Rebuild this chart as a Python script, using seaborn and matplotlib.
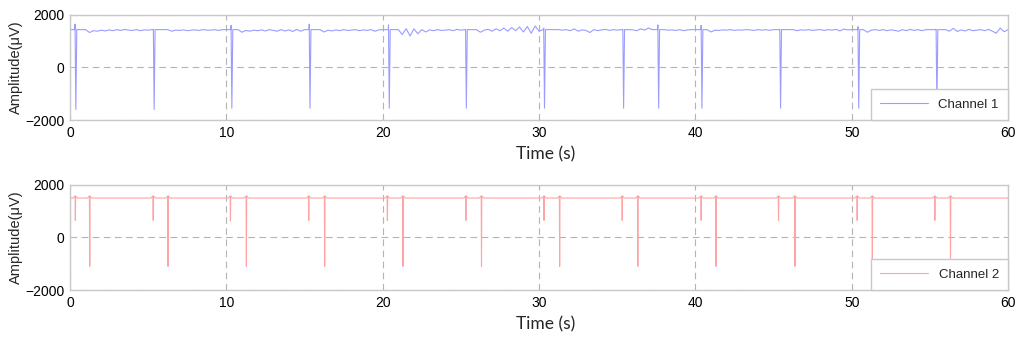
import numpy as np
import pandas as pd
import seaborn as sns
import matplotlib.pyplot as plt

# ---- data ----
# channel 1 baseline, sampled every 0.25 s from 0 to 60 s (uV)
ch1_base = [
    1440, 1440, 1440, 1440,  1440, 1330, 1400, 1380,  1420, 1390, 1430, 1400,
    1440, 1410, 1450, 1420,  1410, 1440, 1400, 1430,  1420, 1440, 1440, 1440,
    1440, 1440, 1380, 1420,  1410, 1430, 1400, 1420,  1430, 1410, 1440, 1420,
    1420, 1440, 1410, 1440,  1440, 1440, 1440, 1440,  1340, 1410, 1380, 1420,
    1400, 1430, 1390, 1440,  1410, 1380, 1440, 1390,  1430, 1370, 1450, 1380,
    1440, 1440, 1440, 1440,  1440, 1350, 1420, 1390,  1430, 1400, 1440, 1410,
    1420, 1440, 1400, 1430,  1410, 1440, 1380, 1430,  1440, 1440, 1440, 1440,
    1440, 1250, 1480, 1200,  1470, 1280, 1440, 1350,  1430, 1400, 1440, 1410,
    1420, 1440, 1400, 1450,  1420, 1440, 1440, 1440,  1440, 1340, 1420, 1450,
    1380, 1470, 1400, 1500,  1380, 1520, 1400, 1540,  1350, 1560, 1300, 1580,
    1380, 1440, 1440, 1440,  1440, 1440, 1420, 1440,  1400, 1470, 1380, 1430,
    1410, 1330, 1440, 1400,  1430, 1450, 1410, 1440,  1420, 1440, 1440, 1440,
    1430, 1400, 1470, 1420,  1500, 1440, 1440, 1440,  1440, 1420, 1430, 1410,
    1440, 1400, 1430, 1440,  1440, 1440, 1440, 1440,  1350, 1420, 1410, 1430,
    1420, 1440, 1410, 1430,  1420, 1440, 1430, 1410,  1440, 1420, 1440, 1410,
    1440, 1440, 1440, 1440,  1440, 1440, 1400, 1430,  1420, 1440, 1410, 1430,
    1440, 1410, 1440, 1420,  1450, 1390, 1460, 1430,  1440, 1440, 1440, 1440,
    1340, 1420, 1440, 1410,  1440, 1400, 1430, 1410,  1380, 1440, 1400, 1450,
    1410, 1440, 1400, 1440,  1440, 1440, 1440, 1440,  1440, 1380, 1490, 1370,
    1430, 1390, 1450, 1400,  1420, 1440, 1400, 1450,  1380, 1300, 1500, 1360,
    1440,
]
ch1_spike_t = [0.32, 5.33, 10.30, 15.30, 20.37, 25.30, 30.30, 35.36, 37.60, 40.37, 45.40, 50.40, 55.40]
ch1_spike_top = [1650, 1450, 1600, 1650, 1620, 1450, 1500, 1450, 1620, 1600, 1450, 1550, 1450]
ch1_spike_low = [-1600, -1600, -1550, -1550, -1550, -1550, -1550, -1550, -1550, -1550, -1550, -1550, -1550]

# channel 2: flat baseline with a small and a large dip every ~5 s
ch2_level = 1500
ch2_small_t = [0.32, 5.30, 10.24, 15.25, 20.28, 25.30, 30.30, 35.30, 40.35, 45.30, 50.33, 55.30]
ch2_small_low = [650, 650, 630, 650, 650, 650, 650, 650, 650, 650, 650, 650]
ch2_big_t = [1.24, 6.25, 11.26, 16.27, 21.28, 26.30, 31.30, 36.30, 41.30, 46.35, 51.30, 56.30]
ch2_big_low = [-1100, -1100, -1100, -1100, -1100, -1100, -1100, -1100, -1100, -1100, -1100, -1100]

x_ticks = [0, 10, 20, 30, 40, 50, 60]
y_ticks = [-2000, 0, 2000]

# ---- build the series ----
base_t = np.linspace(0, 60, len(ch1_base))
ch1 = pd.DataFrame({"t": base_t, "v": ch1_base})
for t in ch1_spike_t:
    ch1 = ch1[(ch1.t < t - 0.03) | (ch1.t > t + 0.15)]
rows = []
for t, top, low in zip(ch1_spike_t, ch1_spike_top, ch1_spike_low):
    rows += [(t - 0.01, 1440), (t, top), (t + 0.05, low), (t + 0.11, 1440)]
ch1 = pd.concat([ch1, pd.DataFrame(rows, columns=["t", "v"])]).sort_values("t")

rows = [(0, ch2_level), (60, ch2_level)]
for t, low in list(zip(ch2_small_t, ch2_small_low)) + list(zip(ch2_big_t, ch2_big_low)):
    rows += [(t - 0.12, ch2_level), (t, ch2_level + 80), (t + 0.02, low),
             (t + 0.04, ch2_level + 80), (t + 0.16, ch2_level)]
ch2 = pd.DataFrame(rows, columns=["t", "v"]).sort_values("t")

# ---- plot ----
sns.set_style("white")
plt.rcParams["font.family"] = ["Liberation Sans", "DejaVu Sans"]

fig = plt.figure(figsize=(10.24, 3.39), dpi=100)
ax1 = fig.add_axes([0.0684, 0.646, 0.916, 0.31])
ax2 = fig.add_axes([0.0684, 0.1445, 0.916, 0.31])

for ax, df, color, name in [(ax1, ch1, "#9c9cff", "Channel 1"), (ax2, ch2, "#ffa4a4", "Channel 2")]:
    sns.lineplot(data=df, x="t", y="v", ax=ax, color=color, linewidth=0.8,
                 estimator=None, sort=False, label=name)
    ax.set_xlim(0, 60)
    ax.set_ylim(-2000, 2000)
    ax.set_xticks(x_ticks)
    ax.set_yticks(y_ticks)
    ax.grid(True, color="#b4b4b4", linestyle=(0, (6, 4)), linewidth=0.8)
    ax.tick_params(length=0, labelsize=10, pad=4, colors="black")
    for s in ax.spines.values():
        s.set_color("#c8c8c8")
        s.set_linewidth(1.0)
    ax.set_xlabel("Time (s)", family="Lato", fontsize=12.5)
    ax.xaxis.set_label_coords(0.507, -0.25)
    ax.set_ylabel("Amplitude(\u03bcV)", fontsize=10.5)
    ax.yaxis.set_label_coords(-0.05, 0.5)
    leg = ax.legend(loc="lower right", borderaxespad=0, fancybox=False,
                    edgecolor="#c8c8c8", framealpha=1, fontsize=9.5,
                    handlelength=3.6, borderpad=0.7)
    leg.get_frame().set_linewidth(1.0)

fig.savefig("out.png", dpi=100)
